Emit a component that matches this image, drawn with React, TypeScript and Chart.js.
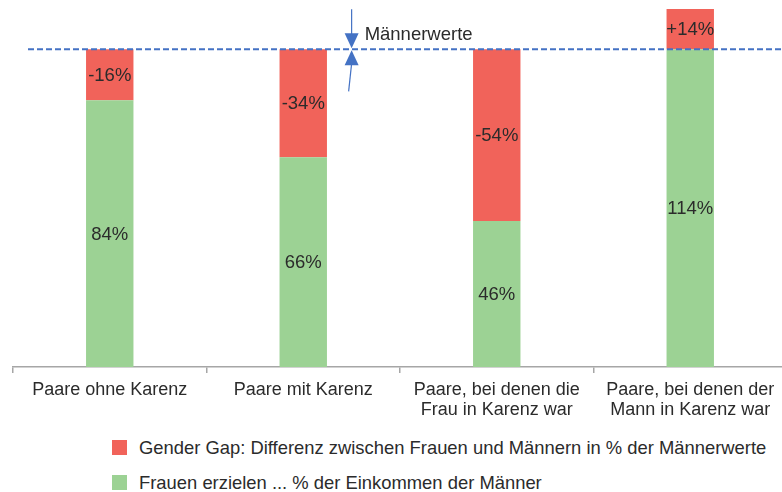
import React, { useEffect, useRef } from "react";
import { Chart, registerables } from "chart.js";

Chart.register(...registerables);

const categories: string[][] = [
  ["Paare ohne Karenz"],
  ["Paare mit Karenz"],
  ["Paare, bei denen die", "Frau in Karenz war"],
  ["Paare, bei denen der", "Mann in Karenz war"],
];
// Frauen erzielen ... % der Einkommen der Männer
const frauenPct: number[] = [84, 66, 46, 114];
// Gender Gap in % der Männerwerte
const gapPct: number[] = [-16, -34, -54, 14];

const legendGap = "Gender Gap: Differenz zwischen Frauen und Männern in % der Männerwerte";
const legendFrauen = "Frauen erzielen ... % der Einkommen der Männer";
const refLabel = "Männerwerte";

const RED = "#F1635A";
const GREEN = "#9CD294";
const BLUE = "#4472C4";
const TEXT = "#2b2b2b";
const FONT = 'Arial, "Liberation Sans", sans-serif';

const greenHeights = frauenPct.map((v) => Math.min(v, 100));
const redHeights = gapPct.map((v) => Math.abs(v));
const greenLabels = frauenPct.map((v) => `${v}%`);
const redLabels = gapPct.map((v) => (v > 0 ? `+${v}%` : `${v}%`));

const labelsPlugin = {
  id: "segLabels",
  afterDatasetsDraw(chart: any) {
    const ctx = chart.ctx;
    const area = chart.chartArea;
    ctx.save();
    ctx.font = `18.5px ${FONT}`;
    ctx.fillStyle = TEXT;
    ctx.textAlign = "center";
    ctx.textBaseline = "middle";
    const texts = [greenLabels, redLabels];
    chart.data.datasets.forEach((_: any, di: number) => {
      const meta = chart.getDatasetMeta(di);
      meta.data.forEach((bar: any, i: number) => {
        const top = Math.max(bar.y, area.top);
        const bottom = Math.min(bar.base, area.bottom);
        ctx.fillText(texts[di][i], bar.x, (top + bottom) / 2 + 1);
      });
    });
    ctx.restore();
  },
};

const refPlugin = {
  id: "refLine",
  afterDatasetsDraw(chart: any) {
    const ctx = chart.ctx;
    const y = chart.scales.y.getPixelForValue(100);
    const xs = chart.scales.x;
    ctx.save();
    ctx.strokeStyle = BLUE;
    ctx.lineWidth = 2;
    ctx.setLineDash([6, 3]);
    ctx.beginPath();
    ctx.moveTo(28, y);
    ctx.lineTo(chart.width, y);
    ctx.stroke();
    ctx.setLineDash([]);

    const step = xs.getPixelForValue(1) - xs.getPixelForValue(0);
    const ax = xs.getPixelForValue(1) + step * 0.25;
    ctx.fillStyle = BLUE;
    ctx.lineWidth = 1.2;
    // upper arrow
    ctx.beginPath();
    ctx.moveTo(ax, y - 40);
    ctx.lineTo(ax, y - 14);
    ctx.stroke();
    ctx.beginPath();
    ctx.moveTo(ax - 7, y - 16);
    ctx.lineTo(ax + 7, y - 16);
    ctx.lineTo(ax, y - 1);
    ctx.closePath();
    ctx.fill();
    // lower arrow
    ctx.beginPath();
    ctx.moveTo(ax, y + 1);
    ctx.lineTo(ax + 7, y + 16);
    ctx.lineTo(ax - 7, y + 16);
    ctx.closePath();
    ctx.fill();
    ctx.beginPath();
    ctx.moveTo(ax, y + 14);
    ctx.lineTo(ax - 3, y + 42);
    ctx.stroke();

    ctx.font = `18.5px ${FONT}`;
    ctx.fillStyle = TEXT;
    ctx.textAlign = "left";
    ctx.textBaseline = "alphabetic";
    ctx.fillText(refLabel, ax + 13, y - 9);
    ctx.restore();
  },
};

export default function App() {
  const ref = useRef<HTMLCanvasElement>(null);
  useEffect(() => {
    if (!ref.current) return;
    const chart = new Chart(ref.current, {
      type: "bar",
      data: {
        labels: categories,
        datasets: [
          {
            label: legendFrauen,
            data: greenHeights,
            backgroundColor: GREEN,
            borderWidth: 0,
            categoryPercentage: 1,
            barPercentage: 0.245,
          },
          {
            label: legendGap,
            data: redHeights,
            backgroundColor: RED,
            borderWidth: 0,
            categoryPercentage: 1,
            barPercentage: 0.245,
          },
        ],
      },
      options: {
        animation: false,
        responsive: false,
        maintainAspectRatio: false,
        devicePixelRatio: 1,
        layout: { padding: { left: 13, right: 3, top: 9, bottom: 3 } },
        plugins: {
          legend: { display: false },
          tooltip: { enabled: false },
          title: { display: false },
        },
        scales: {
          x: {
            stacked: true,
            grid: {
              display: true,
              drawOnChartArea: false,
              drawTicks: true,
              tickLength: 6,
              color: "#A6A6A6",
              lineWidth: 1.5,
              offset: true,
            },
            border: { display: true, color: "#A6A6A6", width: 1.5 },
            ticks: {
              color: TEXT,
              font: { family: FONT, size: 18, lineHeight: 1.12 },
              maxRotation: 0,
              minRotation: 0,
              autoSkip: false,
              padding: 7,
            },
            afterFit: (scale: any) => {
              scale.height = 60;
            },
          },
          y: {
            stacked: true,
            display: false,
            min: 0,
            max: 112.7,
          },
        },
      },
      plugins: [labelsPlugin, refPlugin],
    });
    return () => chart.destroy();
  }, []);

  const legendText: React.CSSProperties = {
    position: "absolute",
    left: 139,
    font: `18.4px ${FONT}`,
    color: TEXT,
    whiteSpace: "nowrap",
    lineHeight: "20px",
  };

  return (
    <div
      style={{
        position: "fixed",
        left: 0,
        top: 0,
        width: 782,
        height: 492,
        overflow: "hidden",
        background: "#fff",
      }}
    >
      <canvas ref={ref} width={790} height={430} style={{ display: "block" }} />
      <div style={{ position: "absolute", left: 112, top: 440, width: 15, height: 15, background: RED }} />
      <div style={{ ...legendText, top: 438 }}>{legendGap}</div>
      <div style={{ position: "absolute", left: 112, top: 475, width: 15, height: 15, background: GREEN }} />
      <div style={{ ...legendText, top: 473 }}>{legendFrauen}</div>
    </div>
  );
}
